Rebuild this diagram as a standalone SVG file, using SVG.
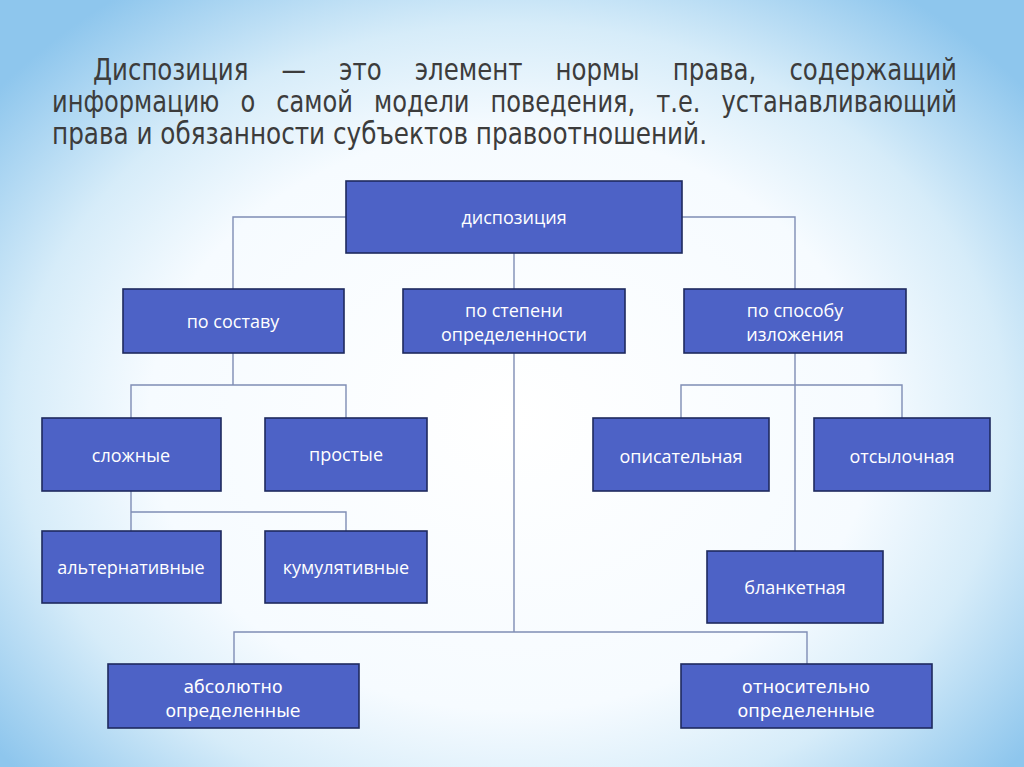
<svg xmlns="http://www.w3.org/2000/svg" width="1024" height="767" viewBox="0 0 1024 767">
<defs>
<radialGradient id="bg" cx="512" cy="420" r="660" gradientUnits="userSpaceOnUse" gradientTransform="translate(512 420) scale(1 0.8) translate(-512 -420)">
<stop offset="0" stop-color="#ffffff"/>
<stop offset="0.55" stop-color="#f6fbff"/>
<stop offset="0.75" stop-color="#d6ecf9"/>
<stop offset="1" stop-color="#8ec6ed"/>
</radialGradient>
</defs>
<style>
.box{fill:#4d62c6;stroke:#1e2a5e;stroke-width:1.6}
.lbl{fill:#ffffff;font-family:"Open Sans","Liberation Sans",sans-serif;font-size:18px;text-anchor:middle}
.cond{fill:#ffffff;font-family:"DejaVu Sans Condensed","DejaVu Sans",sans-serif;font-stretch:condensed;font-size:18px;text-anchor:middle}
.ttl text{fill:#3c3c3c;font-family:"DejaVu Sans Condensed","DejaVu Sans",sans-serif;font-stretch:condensed;font-size:30px}
.con{fill:none;stroke:#7f8db5;stroke-width:1.4}
</style>
<rect x="0" y="0" width="1024" height="767" fill="url(#bg)"/>
<g id="title" class="ttl">
<text transform="scale(0.82 1)" x="113.41" y="80" textLength="1053.66" lengthAdjust="spacingAndGlyphs" word-spacing="28">Диспозиция — это элемент нормы права, содержащий</text>
<text transform="scale(0.82 1)" x="63.41" y="112" textLength="1103.66" lengthAdjust="spacingAndGlyphs" word-spacing="15">информацию о самой модели поведения, т.е. устанавливающий</text>
<text transform="scale(0.82 1)" x="63.41" y="144" textLength="798.78" lengthAdjust="spacingAndGlyphs">права и обязанности субъектов правоотношений.</text>
</g>
<g id="connectors" class="con">
<path d="M346 217H233V289"/>
<path d="M682 217H795V289"/>
<path d="M514 253V289"/>
<path d="M233 353V385M131 418V385H346V418"/>
<path d="M131 491V512M131 531V512H346V531"/>
<path d="M514 353V632M234 664V632H807V664"/>
<path d="M795 353V551M681 418V385H902V418"/>
</g>
<g id="n-dispozitsiya"><rect class="box" x="346" y="181" width="336" height="72"/><text class="lbl" x="514" y="224">диспозиция</text></g>
<g id="n-po-sostavu"><rect class="box" x="123" y="289" width="221" height="64"/><text class="lbl" x="233" y="328">по составу</text></g>
<g id="n-po-stepeni"><rect class="box" x="403" y="289" width="222" height="64"/><text class="lbl" x="514" y="317">по степени</text><text class="lbl" x="514" y="341">определенности</text></g>
<g id="n-po-sposobu"><rect class="box" x="684" y="289" width="222" height="64"/><text class="lbl" x="795" y="317">по способу</text><text class="lbl" x="795" y="341">изложения</text></g>
<g id="n-slozhnye"><rect class="box" x="42" y="418" width="179" height="73"/><text class="lbl" x="131" y="462">сложные</text></g>
<g id="n-prostye"><rect class="box" x="265" y="418" width="162" height="73"/><text class="lbl" x="346" y="461">простые</text></g>
<g id="n-opisatelnaya"><rect class="box" x="593" y="418" width="176" height="73"/><text class="lbl" x="681" y="463">описательная</text></g>
<g id="n-otsylochnaya"><rect class="box" x="814" y="418" width="176" height="73"/><text class="lbl" x="902" y="463">отсылочная</text></g>
<g id="n-alternativnye"><rect class="box" x="42" y="531" width="179" height="72"/><text class="lbl" x="131" y="574">альтернативные</text></g>
<g id="n-kumulyativnye"><rect class="box" x="265" y="531" width="162" height="72"/><text class="lbl" x="346" y="574">кумулятивные</text></g>
<g id="n-blanketnaya"><rect class="box" x="707" y="551" width="176" height="72"/><text class="lbl" x="795" y="594">бланкетная</text></g>
<g id="n-absolyutno"><rect class="box" x="108" y="664" width="251" height="64"/><text class="cond" x="233" y="693" textLength="99" lengthAdjust="spacingAndGlyphs">абсолютно</text><text class="cond" x="233" y="717" textLength="135" lengthAdjust="spacingAndGlyphs">определенные</text></g>
<g id="n-otnositelno"><rect class="box" x="681" y="664" width="251" height="64"/><text class="cond" x="806" y="693" textLength="128" lengthAdjust="spacingAndGlyphs">относительно</text><text class="cond" x="806" y="717" textLength="137" lengthAdjust="spacingAndGlyphs">определенные</text></g>
</svg>
